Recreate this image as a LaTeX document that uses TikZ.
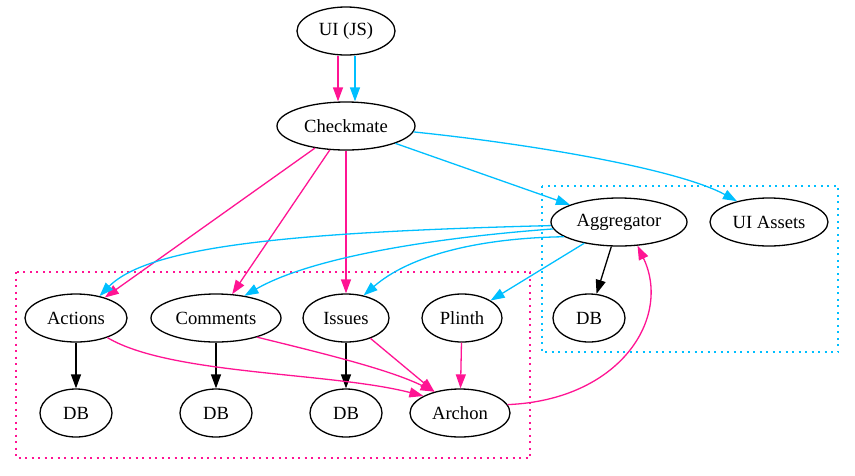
\documentclass[tikz,border=0pt]{standalone}
\usepackage{fontspec}
\setmainfont{Liberation Serif}
\usetikzlibrary{shapes.geometric,arrows.meta}
\definecolor{pk}{HTML}{FF1493}
\definecolor{cy}{HTML}{00BFFF}
\begin{document}
\begin{tikzpicture}[x=1pt,y=-1pt,
  nd/.style={ellipse,draw,line width=1.3pt,minimum height=48pt,inner sep=0pt,font=\fontsize{18.6}{22}\selectfont},
  ar/.style={line width=1.3pt,-{Triangle[length=14pt,width=10pt]}},
  pkar/.style={ar,draw=pk},
  cyar/.style={ar,draw=cy},
  bkar/.style={ar,draw=black},
  clus/.style={line width=1.5pt,dash pattern=on 2pt off 4.5pt}]
\useasboundingbox (0,0) rectangle (855,475);
% clusters
\draw[clus,draw=pk] (16,272) rectangle (530,458);
\draw[clus,draw=cy] (542,186) rectangle (838,352);
% nodes
\node[nd,minimum width=98pt] (ui) at (346,31) {UI (JS)};
\node[nd,minimum width=138pt] (chk) at (346,126) {Checkmate};
\node[nd,minimum width=136pt] (agg) at (619,222) {Aggregator};
\node[nd,minimum width=118pt] (uia) at (769,222) {UI Assets};
\node[nd,minimum width=72pt] (adb) at (589,318) {DB};
\node[nd,minimum width=102pt] (act) at (76,318) {Actions};
\node[nd,minimum width=130pt] (com) at (216,318) {Comments};
\node[nd,minimum width=86pt] (iss) at (346,318) {Issues};
\node[nd,minimum width=80pt] (pli) at (462,318) {Plinth};
\node[nd,minimum width=72pt] (db1) at (76,413) {DB};
\node[nd,minimum width=72pt] (db2) at (216,413) {DB};
\node[nd,minimum width=72pt] (db3) at (346,413) {DB};
\node[nd,minimum width=100pt] (arc) at (460,413) {Archon};
% edges
\draw[pkar] ([xshift=-8pt]ui.south) -- ([xshift=-8pt]chk.north);
\draw[cyar] ([xshift=9pt]ui.south) -- ([xshift=9pt]chk.north);
\draw[pkar] (chk) -- (act);
\draw[pkar] (chk) -- (com);
\draw[pkar] (chk) -- (iss);
\draw[cyar] (chk) -- (agg);
\draw[cyar] (chk.-5) .. controls (540,145) and (680,170) .. (uia.147);
\draw[cyar] (agg.183) .. controls (300,232) and (150,245) .. (act.43);
\draw[cyar] (agg.186) .. controls (430,238) and (310,258) .. (com.38);
\draw[cyar] (agg.195) .. controls (480,238) and (410,255) .. (iss.52);
\draw[cyar] (agg) -- (pli);
\draw[bkar] (agg) -- (adb);
\draw[bkar] (act) -- (db1);
\draw[bkar] (com) -- (db2);
\draw[bkar] (iss) -- (db3);
\draw[pkar] (act.-32) .. controls (170,375) and (330,372) .. (arc.155);
\draw[pkar] (com.-25) .. controls (330,355) and (390,370) .. (arc.140);
\draw[pkar] (iss) -- (arc);
\draw[pkar] (pli) -- (arc);
\draw[pkar] (arc.10) .. controls (620,400) and (672,318) .. (agg.-52);
\end{tikzpicture}
\end{document}
